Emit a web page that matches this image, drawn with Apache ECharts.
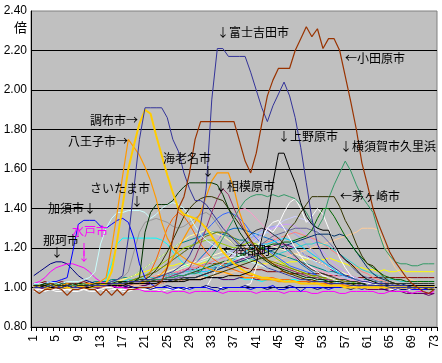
<!DOCTYPE html>
<html><head><meta charset="utf-8">
<script src="https://cdn.jsdelivr.net/npm/echarts@6/dist/echarts.min.js"></script>
<style>html,body{margin:0;padding:0;background:#fff}#c{width:442px;height:363px}</style>
</head><body><div id="c"></div>
<script>
const categories = ['1','2','3','4','5','6','7','8','9','10','11','12','13','14','15','16','17','18','19','20','21','22','23','24','25','26','27','28','29','30','31','32','33','34','35','36','37','38','39','40','41','42','43','44','45','46','47','48','49','50','51','52','53','54','55','56','57','58','59','60','61','62','63','64','65','66','67','68','69','70','71','72','73'];
const yTicks = [0.8,1.0,1.2,1.4,1.6,1.8,2.0,2.2,2.4];

const naka = [1.06,1.08,1.10,1.12,1.13,1.13,1.12,1.09,1.06,1.04,1.03,1.02,1.02,1.01,1.01,1.00,1.00,1.01,1.00,1.00,1.00,0.99,1.00,1.00,1.01,1.00,1.00,0.99,1.00,1.00,1.00,1.01,1.00,1.00,0.99,1.00,1.00,1.00,1.01,1.00,1.00,1.00,0.99,1.00,1.00,1.00,1.01,1.00,1.00,1.00,1.00,0.99,1.00,1.00,1.00,1.00,1.00,0.99,1.00,1.00,1.00,1.00,1.00,0.99,1.00,1.00,0.99,0.99,1.00,0.99,0.99,1.00,0.99];
const mito = [1.02,1.03,1.05,1.08,1.10,1.11,1.12,1.12,1.11,1.10,1.08,1.05,1.03,1.02,1.01,1.00,1.00,0.99,0.99,0.99,0.98,0.98,0.98,0.98,0.97,0.98,0.98,0.98,0.97,0.98,0.98,0.98,0.98,0.98,0.97,0.98,0.98,0.98,0.98,0.98,0.97,0.98,0.98,0.98,0.98,0.97,0.98,0.98,0.98,0.98,0.97,0.97,0.98,0.98,0.98,0.97,0.97,0.98,0.98,0.98,0.98,0.98,0.97,0.97,0.98,0.98,0.98,0.98,0.97,0.98,0.98,0.97,0.98];
const yellowS = [1.00,1.00,1.01,1.00,1.00,1.01,1.00,1.00,1.00,1.01,1.00,1.00,1.01,1.01,1.02,1.03,1.04,1.05,1.06,1.07,1.08,1.09,1.10,1.10,1.11,1.11,1.12,1.12,1.11,1.12,1.12,1.13,1.12,1.12,1.13,1.13,1.12,1.13,1.13,1.14,1.13,1.12,1.12,1.13,1.12,1.12,1.13,1.13,1.14,1.14,1.15,1.15,1.14,1.15,1.14,1.13,1.12,1.11,1.10,1.10,1.09,1.09,1.08,1.09,1.08,1.08,1.09,1.08,1.08,1.08,1.08,1.08,1.08];
const cyanS = [1.00,1.01,1.00,1.00,1.01,1.00,1.00,1.01,1.00,1.00,1.01,1.01,1.02,1.04,1.12,1.22,1.25,1.25,1.25,1.25,1.25,1.25,1.25,1.24,1.22,1.18,1.15,1.12,1.10,1.08,1.07,1.06,1.05,1.05,1.04,1.04,1.04,1.05,1.04,1.04,1.04,1.03,1.04,1.04,1.04,1.03,1.04,1.04,1.03,1.03,1.03,1.03,1.04,1.03,1.03,1.02,1.02,1.03,1.02,1.02,1.02,1.02,1.01,1.01,1.01,1.01,1.00,1.00,1.00,1.00,1.00,1.00,1.00];
const purpleS = [1.01,1.00,1.01,1.01,1.00,1.00,1.01,1.00,1.01,1.00,1.00,1.00,1.01,1.00,1.00,1.01,1.00,1.00,1.01,1.01,1.01,1.02,1.02,1.03,1.03,1.04,1.05,1.06,1.07,1.08,1.08,1.09,1.10,1.10,1.11,1.12,1.13,1.14,1.15,1.16,1.17,1.18,1.20,1.21,1.22,1.22,1.21,1.20,1.18,1.16,1.15,1.13,1.12,1.10,1.08,1.07,1.06,1.05,1.04,1.03,1.02,1.01,1.00,0.99,0.99,0.98,0.98,0.98,0.97,0.97,0.97,0.97,0.97];
const maroonS = [1.02,1.02,1.03,1.02,1.02,1.03,1.02,1.02,1.02,1.03,1.02,1.02,1.03,1.03,1.02,1.03,1.03,1.03,1.03,1.03,1.03,1.03,1.04,1.05,1.06,1.07,1.08,1.09,1.09,1.09,1.11,1.12,1.12,1.12,1.12,1.12,1.12,1.11,1.10,1.09,1.09,1.09,1.08,1.08,1.08,1.08,1.07,1.07,1.07,1.07,1.07,1.07,1.07,1.06,1.06,1.06,1.06,1.06,1.05,1.05,1.05,1.05,1.05,1.05,1.05,1.05,1.05,1.05,1.05,1.05,1.05,1.05,1.05];
const tealS = [1.01,1.01,1.02,1.02,1.01,1.02,1.02,1.01,1.02,1.02,1.02,1.03,1.03,1.03,1.04,1.04,1.05,1.05,1.06,1.08,1.10,1.12,1.14,1.16,1.18,1.20,1.22,1.23,1.24,1.25,1.26,1.27,1.28,1.28,1.27,1.26,1.25,1.24,1.24,1.22,1.21,1.20,1.19,1.18,1.17,1.16,1.15,1.14,1.13,1.12,1.11,1.10,1.09,1.08,1.08,1.07,1.06,1.05,1.05,1.04,1.04,1.03,1.03,1.03,1.02,1.02,1.02,1.02,1.02,1.02,1.02,1.02,1.02];
const kazo = [1.02,1.02,1.02,1.03,1.03,1.04,1.05,1.18,1.32,1.34,1.34,1.34,1.31,1.30,1.32,1.34,1.35,1.33,1.25,1.12,1.05,1.02,1.00,1.00,1.00,0.99,1.00,1.00,0.99,1.00,1.00,1.00,0.99,0.98,1.00,1.00,1.00,1.00,1.00,0.99,1.00,1.00,1.00,1.01,0.99,0.99,1.00,1.00,0.98,1.00,1.00,1.00,1.00,0.99,1.00,1.00,1.00,1.00,1.00,0.99,1.00,1.00,1.00,1.00,1.00,0.99,1.00,1.00,0.99,0.99,0.99,0.99,0.99];
const periS = [1.00,1.00,0.99,1.00,1.00,1.00,1.01,1.00,1.00,1.00,1.00,1.01,1.00,1.00,1.01,1.01,1.01,1.02,1.02,1.03,1.03,1.04,1.04,1.05,1.05,1.06,1.07,1.08,1.09,1.10,1.11,1.12,1.13,1.14,1.15,1.17,1.19,1.21,1.23,1.25,1.27,1.29,1.30,1.31,1.31,1.30,1.29,1.27,1.25,1.22,1.19,1.16,1.13,1.11,1.09,1.07,1.05,1.04,1.03,1.02,1.02,1.01,1.01,1.01,1.00,1.00,1.00,1.00,1.00,1.00,1.00,1.00,1.00];
const plumS = [1.00,1.01,1.00,1.00,1.00,1.01,1.00,1.00,1.00,1.00,1.01,1.00,1.00,1.01,1.01,1.00,1.01,1.01,1.02,1.02,1.02,1.03,1.03,1.04,1.05,1.06,1.07,1.08,1.10,1.15,1.22,1.30,1.38,1.45,1.50,1.47,1.40,1.34,1.28,1.23,1.19,1.16,1.14,1.12,1.11,1.10,1.09,1.08,1.07,1.06,1.05,1.05,1.04,1.04,1.03,1.03,1.02,1.02,1.02,1.01,1.01,1.01,1.01,1.00,1.00,1.00,1.00,1.00,1.00,1.00,1.00,1.00,1.00];
const ltYellowS = [1.00,1.00,1.00,1.01,1.00,1.00,1.00,1.00,1.01,1.00,1.00,1.00,1.00,1.00,1.01,1.01,1.02,1.02,1.03,1.03,1.04,1.05,1.06,1.07,1.08,1.09,1.10,1.11,1.12,1.13,1.14,1.15,1.16,1.17,1.18,1.19,1.20,1.20,1.21,1.21,1.22,1.22,1.21,1.21,1.20,1.19,1.18,1.17,1.16,1.15,1.14,1.13,1.12,1.10,1.09,1.08,1.07,1.06,1.05,1.04,1.03,1.03,1.02,1.02,1.01,1.01,1.01,1.00,1.00,1.00,1.00,1.00,1.00];
const dkPurpleS = [0.99,0.99,1.00,0.99,0.99,1.00,0.99,0.99,0.99,1.00,0.99,0.99,1.00,1.00,1.00,1.00,1.00,1.01,1.01,1.01,1.01,1.02,1.02,1.02,1.03,1.03,1.03,1.04,1.04,1.04,1.04,1.05,1.05,1.05,1.04,1.04,1.04,1.05,1.05,1.05,1.04,1.04,1.04,1.04,1.04,1.03,1.03,1.03,1.03,1.03,1.02,1.02,1.02,1.02,1.01,1.01,1.01,1.00,1.00,1.00,0.99,0.99,0.99,0.99,0.98,0.98,0.98,0.97,0.97,0.97,0.97,0.96,0.97];
const salmonS = [1.01,1.01,1.00,1.01,1.01,1.00,1.01,1.01,1.01,1.00,1.01,1.01,1.01,1.02,1.02,1.02,1.03,1.03,1.04,1.04,1.05,1.05,1.06,1.06,1.07,1.08,1.08,1.09,1.10,1.10,1.11,1.12,1.13,1.14,1.15,1.16,1.17,1.18,1.19,1.20,1.21,1.22,1.23,1.24,1.25,1.26,1.27,1.28,1.27,1.26,1.25,1.24,1.22,1.20,1.18,1.16,1.14,1.12,1.10,1.08,1.07,1.05,1.04,1.03,1.02,1.02,1.01,1.01,1.01,1.00,1.00,1.00,1.00];
const medBlueS = [1.00,1.00,1.00,1.01,1.00,1.00,1.00,1.01,1.00,1.00,1.00,1.01,1.01,1.01,1.01,1.02,1.02,1.02,1.03,1.03,1.03,1.04,1.04,1.05,1.05,1.06,1.07,1.08,1.10,1.12,1.15,1.18,1.21,1.24,1.27,1.29,1.30,1.30,1.29,1.28,1.27,1.26,1.25,1.24,1.22,1.20,1.18,1.15,1.12,1.10,1.08,1.06,1.05,1.04,1.03,1.02,1.02,1.01,1.01,1.00,1.00,1.00,1.00,1.00,1.00,1.00,1.00,1.00,0.99,0.99,0.99,0.99,0.99];
const lavenderS = [1.00,1.00,1.00,1.00,1.01,1.00,1.00,1.00,1.00,1.01,1.00,1.00,1.00,1.01,1.01,1.01,1.01,1.02,1.02,1.02,1.02,1.03,1.03,1.03,1.04,1.04,1.05,1.05,1.06,1.07,1.08,1.09,1.10,1.11,1.12,1.14,1.16,1.18,1.20,1.22,1.24,1.26,1.28,1.30,1.32,1.34,1.35,1.36,1.35,1.34,1.32,1.29,1.26,1.23,1.20,1.17,1.14,1.11,1.08,1.06,1.05,1.04,1.03,1.02,1.02,1.01,1.01,1.01,1.00,1.00,1.00,1.00,1.00];
const skyS = [1.01,1.01,1.02,1.01,1.01,1.02,1.01,1.01,1.01,1.02,1.01,1.01,1.02,1.02,1.02,1.03,1.03,1.03,1.04,1.04,1.04,1.04,1.05,1.05,1.05,1.06,1.06,1.06,1.07,1.07,1.08,1.08,1.09,1.10,1.11,1.12,1.14,1.16,1.18,1.20,1.21,1.22,1.22,1.23,1.24,1.25,1.24,1.23,1.21,1.19,1.17,1.15,1.13,1.11,1.09,1.07,1.06,1.05,1.04,1.03,1.02,1.02,1.02,1.01,1.01,1.01,1.01,1.01,1.01,1.01,1.01,1.01,1.01];
const mintS = [1.00,1.00,1.01,1.00,1.00,1.00,1.01,1.00,1.00,1.00,1.00,1.01,1.00,1.00,1.01,1.01,1.01,1.02,1.02,1.03,1.03,1.04,1.05,1.06,1.07,1.08,1.09,1.10,1.11,1.12,1.13,1.14,1.15,1.15,1.16,1.16,1.17,1.17,1.16,1.16,1.15,1.15,1.14,1.13,1.12,1.11,1.10,1.09,1.08,1.07,1.06,1.05,1.05,1.04,1.04,1.03,1.03,1.02,1.02,1.01,1.01,1.01,1.00,1.00,1.00,1.00,1.00,1.00,1.00,1.00,1.00,1.00,1.00];
const paleYellowS = [1.00,1.00,1.00,1.00,1.00,1.01,1.00,1.00,1.00,1.00,1.01,1.01,1.01,1.02,1.02,1.03,1.04,1.05,1.06,1.08,1.10,1.12,1.14,1.16,1.18,1.20,1.22,1.24,1.26,1.27,1.28,1.29,1.28,1.27,1.26,1.24,1.22,1.20,1.18,1.16,1.15,1.14,1.13,1.12,1.11,1.10,1.09,1.08,1.08,1.07,1.06,1.06,1.05,1.05,1.04,1.04,1.03,1.03,1.03,1.02,1.02,1.02,1.02,1.01,1.01,1.01,1.01,1.01,1.01,1.01,1.01,1.01,1.01];
const paleBlueS = [1.01,1.00,1.00,1.01,1.00,1.00,1.01,1.00,1.00,1.01,1.00,1.00,1.01,1.01,1.01,1.02,1.02,1.02,1.03,1.03,1.03,1.04,1.04,1.05,1.05,1.06,1.06,1.07,1.08,1.09,1.10,1.11,1.12,1.14,1.16,1.18,1.20,1.22,1.24,1.26,1.27,1.28,1.28,1.27,1.26,1.24,1.22,1.20,1.18,1.16,1.14,1.12,1.10,1.08,1.07,1.06,1.05,1.04,1.03,1.03,1.02,1.02,1.02,1.01,1.01,1.01,1.01,1.00,1.00,1.00,1.00,1.00,1.00];
const pinkS = [1.00,1.00,1.00,1.00,1.00,1.00,1.00,1.01,1.00,1.00,1.00,1.00,1.01,1.01,1.01,1.01,1.02,1.02,1.02,1.03,1.03,1.04,1.04,1.05,1.06,1.07,1.08,1.09,1.10,1.12,1.14,1.17,1.20,1.24,1.28,1.32,1.36,1.39,1.40,1.38,1.35,1.32,1.29,1.26,1.23,1.20,1.17,1.15,1.13,1.11,1.10,1.09,1.08,1.07,1.06,1.05,1.04,1.04,1.03,1.03,1.02,1.02,1.02,1.02,1.01,1.01,1.01,1.01,1.01,1.01,1.01,1.01,1.01];
const violetS = [1.00,1.00,1.01,1.00,1.00,1.00,1.00,1.00,1.01,1.00,1.00,1.00,1.00,1.00,1.01,1.01,1.01,1.01,1.02,1.02,1.02,1.03,1.03,1.04,1.04,1.05,1.05,1.06,1.07,1.08,1.09,1.10,1.11,1.12,1.13,1.15,1.17,1.19,1.21,1.23,1.25,1.27,1.29,1.30,1.31,1.32,1.32,1.31,1.29,1.27,1.24,1.21,1.18,1.15,1.12,1.10,1.08,1.06,1.05,1.04,1.03,1.02,1.02,1.01,1.01,1.01,1.00,1.00,1.00,1.00,1.00,1.00,1.00];
const peachS = [1.00,1.00,1.00,1.00,1.00,1.00,1.00,1.00,1.00,1.00,1.00,1.00,1.00,1.00,1.00,1.01,1.01,1.01,1.01,1.01,1.02,1.02,1.02,1.02,1.03,1.03,1.03,1.04,1.04,1.04,1.05,1.05,1.06,1.06,1.07,1.07,1.08,1.08,1.09,1.09,1.10,1.11,1.12,1.13,1.14,1.15,1.16,1.17,1.18,1.19,1.20,1.21,1.22,1.23,1.24,1.25,1.26,1.27,1.28,1.30,1.30,1.30,1.29,1.22,1.15,1.10,1.07,1.05,1.04,1.03,1.02,1.02,1.02];
const royalS = [1.01,1.01,1.01,1.00,1.01,1.01,1.01,1.01,1.00,1.01,1.01,1.01,1.01,1.02,1.02,1.02,1.03,1.03,1.04,1.05,1.06,1.07,1.08,1.10,1.12,1.14,1.16,1.18,1.20,1.23,1.26,1.29,1.32,1.35,1.37,1.38,1.37,1.35,1.32,1.28,1.25,1.22,1.19,1.17,1.15,1.13,1.11,1.10,1.09,1.08,1.07,1.06,1.05,1.04,1.04,1.03,1.03,1.02,1.02,1.02,1.01,1.01,1.01,1.01,1.01,1.00,1.00,1.00,1.00,1.00,1.00,1.00,1.00];
const aquaS = [1.01,1.02,1.01,1.01,1.02,1.01,1.01,1.02,1.01,1.01,1.02,1.02,1.02,1.02,1.03,1.03,1.03,1.04,1.04,1.04,1.05,1.05,1.05,1.06,1.06,1.07,1.07,1.08,1.08,1.09,1.09,1.10,1.10,1.11,1.11,1.12,1.12,1.13,1.13,1.14,1.14,1.15,1.15,1.16,1.17,1.18,1.19,1.20,1.21,1.22,1.22,1.23,1.22,1.21,1.19,1.17,1.15,1.13,1.11,1.09,1.08,1.07,1.06,1.05,1.04,1.04,1.03,1.03,1.03,1.03,1.03,1.03,1.03];
const limeS = [1.00,1.00,1.00,1.00,1.00,1.00,1.00,1.00,1.00,1.00,1.00,1.00,1.01,1.01,1.01,1.02,1.02,1.03,1.04,1.05,1.06,1.08,1.10,1.12,1.14,1.16,1.18,1.20,1.21,1.22,1.23,1.24,1.24,1.23,1.22,1.21,1.20,1.21,1.22,1.23,1.22,1.20,1.18,1.16,1.14,1.12,1.10,1.09,1.08,1.07,1.06,1.05,1.05,1.04,1.04,1.03,1.03,1.03,1.02,1.02,1.02,1.02,1.01,1.01,1.01,1.01,1.01,1.01,1.01,1.01,1.01,1.01,1.01];
const orange2S = [1.01,1.01,1.01,1.01,1.01,1.01,1.01,1.01,1.01,1.01,1.01,1.01,1.01,1.01,1.01,1.01,1.02,1.02,1.02,1.02,1.03,1.04,1.05,1.07,1.10,1.15,1.20,1.25,1.30,1.33,1.38,1.46,1.54,1.58,1.58,1.58,1.50,1.38,1.30,1.24,1.20,1.17,1.14,1.12,1.10,1.08,1.07,1.06,1.05,1.04,1.04,1.03,1.03,1.03,1.02,1.02,1.02,1.02,1.01,1.01,1.01,1.01,1.01,1.01,1.01,1.01,1.01,1.01,1.01,1.01,1.01,1.01,1.01];
const redOrangeS = [1.00,1.01,1.00,1.01,1.00,1.01,1.00,1.01,1.00,1.01,1.01,1.01,1.01,1.01,1.02,1.02,1.02,1.02,1.03,1.03,1.04,1.08,1.14,1.22,1.30,1.35,1.38,1.36,1.32,1.27,1.22,1.18,1.15,1.13,1.11,1.10,1.09,1.08,1.07,1.06,1.06,1.05,1.05,1.05,1.04,1.04,1.04,1.03,1.03,1.03,1.03,1.02,1.02,1.02,1.02,1.02,1.01,1.01,1.01,1.01,1.01,1.01,1.01,1.00,1.00,1.00,1.00,1.00,1.00,1.00,1.00,1.00,1.00];
const slateS = [1.00,1.00,1.01,1.00,1.00,1.01,1.00,1.00,1.01,1.00,1.01,1.01,1.01,1.01,1.02,1.02,1.02,1.02,1.03,1.03,1.03,1.03,1.04,1.04,1.04,1.04,1.05,1.05,1.05,1.05,1.06,1.07,1.08,1.09,1.10,1.11,1.12,1.14,1.16,1.18,1.20,1.22,1.24,1.26,1.27,1.28,1.29,1.30,1.30,1.30,1.29,1.28,1.26,1.23,1.20,1.17,1.14,1.11,1.08,1.06,1.05,1.04,1.03,1.02,1.02,1.01,1.01,1.01,1.00,1.00,1.00,1.00,1.00];
const grayS = [1.01,1.01,1.01,1.01,1.02,1.01,1.01,1.01,1.02,1.01,1.01,1.02,1.02,1.02,1.03,1.04,1.05,1.08,1.18,1.28,1.33,1.34,1.35,1.34,1.33,1.31,1.30,1.31,1.33,1.35,1.37,1.38,1.36,1.32,1.28,1.25,1.22,1.20,1.18,1.16,1.15,1.14,1.13,1.12,1.11,1.10,1.09,1.08,1.07,1.06,1.05,1.05,1.04,1.04,1.03,1.03,1.03,1.02,1.02,1.02,1.01,1.01,1.01,1.01,1.01,1.01,1.01,1.01,1.01,1.01,1.01,1.01,1.01];
const dkSlateS = [1.00,1.00,1.00,1.01,1.00,1.00,1.00,1.01,1.00,1.00,1.00,1.01,1.01,1.01,1.01,1.01,1.02,1.02,1.02,1.02,1.02,1.03,1.03,1.03,1.03,1.04,1.04,1.04,1.05,1.05,1.06,1.07,1.08,1.09,1.10,1.11,1.12,1.13,1.14,1.15,1.16,1.17,1.18,1.19,1.20,1.21,1.22,1.23,1.24,1.25,1.26,1.27,1.27,1.27,1.26,1.27,1.26,1.22,1.18,1.14,1.10,1.07,1.05,1.04,1.03,1.02,1.02,1.01,1.01,1.00,1.00,1.00,1.00];
const dkGreenS = [1.01,1.01,1.01,1.01,1.01,1.01,1.01,1.01,1.01,1.01,1.01,1.01,1.01,1.02,1.02,1.02,1.02,1.02,1.03,1.03,1.03,1.04,1.04,1.04,1.05,1.05,1.06,1.06,1.07,1.08,1.09,1.10,1.11,1.12,1.13,1.14,1.15,1.16,1.17,1.18,1.19,1.20,1.21,1.22,1.22,1.23,1.23,1.24,1.25,1.26,1.29,1.35,1.40,1.40,1.36,1.31,1.26,1.22,1.18,1.15,1.12,1.10,1.08,1.06,1.05,1.04,1.04,1.03,1.03,1.03,1.03,1.03,1.03];
const oliveS = [1.00,1.01,1.00,1.00,1.01,1.00,1.01,1.00,1.00,1.01,1.01,1.01,1.01,1.02,1.02,1.02,1.03,1.03,1.04,1.05,1.06,1.07,1.08,1.10,1.12,1.14,1.16,1.18,1.20,1.22,1.24,1.26,1.27,1.28,1.28,1.27,1.25,1.22,1.20,1.18,1.16,1.15,1.14,1.13,1.12,1.11,1.10,1.09,1.08,1.07,1.06,1.06,1.05,1.05,1.04,1.04,1.03,1.03,1.03,1.02,1.02,1.02,1.02,1.01,1.01,1.01,1.01,1.01,1.01,1.01,1.01,1.01,1.01];
const dkGrayS = [1.01,1.01,1.01,1.01,1.01,1.02,1.01,1.01,1.01,1.01,1.02,1.02,1.02,1.02,1.02,1.02,1.03,1.03,1.03,1.03,1.03,1.03,1.04,1.04,1.04,1.04,1.04,1.05,1.05,1.05,1.06,1.07,1.08,1.10,1.12,1.15,1.18,1.21,1.24,1.27,1.29,1.30,1.29,1.27,1.25,1.22,1.19,1.16,1.13,1.11,1.09,1.08,1.07,1.06,1.05,1.04,1.04,1.03,1.03,1.02,1.02,1.02,1.02,1.02,1.02,1.02,1.02,1.02,1.02,1.02,1.02,1.02,1.02];
const white1S = [0.99,0.99,0.99,0.99,0.99,0.99,0.99,0.99,0.99,0.99,0.99,0.99,0.99,1.00,1.00,0.99,0.99,0.99,1.00,1.00,1.00,1.00,1.00,1.00,1.00,1.00,1.00,1.00,1.00,1.00,1.00,1.00,1.00,1.00,1.00,1.00,1.00,1.00,1.01,1.02,1.10,1.25,1.30,1.28,1.32,1.38,1.43,1.45,1.40,1.33,1.36,1.40,1.37,1.30,1.22,1.15,1.10,1.06,1.04,1.03,1.02,1.02,1.01,1.01,1.01,1.00,1.00,1.00,1.00,1.00,1.00,1.00,1.00];
const white2S = [0.98,0.99,0.98,0.99,0.98,0.98,0.99,0.98,0.98,0.99,0.98,0.98,0.99,0.98,0.99,0.99,0.98,0.98,0.99,0.99,0.99,0.99,0.99,0.98,0.99,0.99,0.99,0.99,0.99,1.00,1.00,1.00,1.05,1.10,1.12,1.15,1.15,1.15,1.16,1.18,1.20,1.25,1.30,1.33,1.34,1.30,1.25,1.20,1.16,1.12,1.10,1.08,1.06,1.05,1.04,1.03,1.02,1.01,1.00,1.00,1.00,1.00,1.00,1.00,0.99,0.99,0.99,0.99,0.99,0.99,0.99,0.99,0.99];
const sagami = [1.01,1.01,1.02,1.01,1.01,1.01,1.02,1.01,1.01,1.01,1.02,1.02,1.02,1.02,1.02,1.03,1.03,1.03,1.03,1.04,1.04,1.06,1.09,1.13,1.18,1.24,1.30,1.36,1.40,1.43,1.45,1.46,1.46,1.45,1.44,1.40,1.36,1.32,1.28,1.24,1.20,1.17,1.14,1.12,1.10,1.08,1.07,1.06,1.05,1.04,1.04,1.03,1.03,1.03,1.02,1.02,1.02,1.02,1.01,1.01,1.01,1.01,1.01,1.01,1.01,1.01,1.01,1.01,1.01,1.01,1.01,1.01,1.01];
const saitama = [1.02,1.02,1.02,1.03,1.02,1.02,1.03,1.03,1.03,1.04,1.05,1.08,1.22,1.30,1.35,1.38,1.38,1.39,1.39,1.39,1.38,1.35,1.37,1.40,1.42,1.43,1.42,1.40,1.36,1.31,1.27,1.24,1.22,1.20,1.19,1.18,1.17,1.16,1.15,1.13,1.12,1.11,1.10,1.09,1.08,1.07,1.06,1.06,1.05,1.05,1.04,1.04,1.03,1.03,1.03,1.02,1.02,1.02,1.01,1.01,1.01,1.01,1.00,1.00,1.00,1.00,1.00,1.00,1.00,1.00,1.00,1.00,1.00];
const ebina = [1.01,1.01,1.02,1.01,1.01,1.02,1.01,1.01,1.02,1.02,1.02,1.02,1.02,1.02,1.02,1.02,1.03,1.03,1.03,1.05,1.28,1.38,1.42,1.42,1.42,1.44,1.48,1.51,1.53,1.53,1.53,1.53,1.53,1.52,1.47,1.40,1.34,1.28,1.24,1.20,1.17,1.15,1.13,1.11,1.10,1.09,1.08,1.07,1.06,1.05,1.05,1.04,1.04,1.03,1.03,1.03,1.02,1.02,1.02,1.02,1.01,1.01,1.01,1.01,1.01,1.01,1.01,1.01,1.01,1.01,1.01,1.01,1.01];
const gold = [1.00,1.01,1.00,1.00,1.01,1.00,1.00,1.00,1.01,1.00,1.00,1.01,1.01,1.02,1.08,1.24,1.42,1.60,1.72,1.83,1.90,1.88,1.77,1.67,1.57,1.48,1.40,1.37,1.36,1.35,1.33,1.30,1.26,1.22,1.18,1.15,1.12,1.10,1.08,1.07,1.06,1.05,1.05,1.04,1.04,1.03,1.03,1.03,1.02,1.02,1.02,1.02,1.01,1.01,1.01,1.01,1.00,1.00,1.00,1.00,1.00,1.00,1.00,1.00,1.00,1.00,1.00,1.00,1.00,1.00,1.00,1.00,1.00];
const hachioji = [1.01,1.01,1.01,1.02,1.01,1.01,1.02,1.01,1.01,1.02,1.02,1.02,1.03,1.05,1.20,1.38,1.57,1.75,1.71,1.67,1.61,1.54,1.45,1.33,1.25,1.20,1.17,1.15,1.13,1.12,1.11,1.10,1.09,1.08,1.08,1.07,1.06,1.06,1.05,1.05,1.05,1.04,1.04,1.04,1.03,1.03,1.03,1.03,1.02,1.02,1.02,1.02,1.02,1.01,1.01,1.01,1.01,1.01,1.01,1.01,1.01,1.01,1.00,1.00,1.00,1.00,1.00,1.00,1.00,1.00,1.00,1.00,1.00];
const chofu = [1.01,1.00,1.01,1.01,1.00,1.01,1.01,1.00,1.01,1.01,1.01,1.01,1.02,1.02,1.03,1.04,1.06,1.25,1.50,1.75,1.91,1.91,1.91,1.91,1.86,1.75,1.69,1.58,1.50,1.44,1.44,1.42,1.38,1.34,1.30,1.27,1.24,1.21,1.18,1.16,1.14,1.12,1.10,1.09,1.08,1.07,1.06,1.05,1.04,1.04,1.03,1.03,1.03,1.02,1.02,1.02,1.02,1.01,1.01,1.01,1.01,1.01,1.01,1.01,1.00,1.00,1.00,1.00,1.00,1.00,1.00,1.00,1.00];
const kurihama = [1.01,1.01,1.01,1.01,1.02,1.01,1.01,1.01,1.01,1.02,1.01,1.02,1.02,1.02,1.02,1.02,1.02,1.03,1.03,1.03,1.03,1.04,1.04,1.04,1.05,1.05,1.06,1.06,1.07,1.07,1.08,1.12,1.16,1.20,1.25,1.30,1.35,1.40,1.44,1.46,1.47,1.47,1.46,1.47,1.46,1.47,1.46,1.45,1.42,1.38,1.33,1.30,1.35,1.45,1.52,1.58,1.64,1.59,1.52,1.46,1.42,1.38,1.28,1.20,1.16,1.13,1.12,1.12,1.11,1.11,1.12,1.12,1.12];
const chigasaki = [1.01,1.01,1.01,1.02,1.01,1.01,1.01,1.02,1.01,1.01,1.01,1.02,1.02,1.02,1.02,1.02,1.02,1.02,1.03,1.03,1.03,1.03,1.03,1.03,1.03,1.03,1.04,1.04,1.04,1.04,1.04,1.05,1.06,1.07,1.08,1.09,1.10,1.11,1.12,1.13,1.14,1.15,1.15,1.16,1.20,1.25,1.30,1.33,1.38,1.42,1.46,1.46,1.46,1.46,1.46,1.41,1.34,1.29,1.22,1.16,1.12,1.11,1.08,1.05,1.03,1.02,1.01,1.01,1.00,1.00,1.00,0.99,0.99];
const uenohara = [1.00,1.00,1.01,1.00,1.00,1.00,1.01,1.00,1.00,1.00,1.00,1.01,1.01,1.01,1.01,1.01,1.01,1.02,1.02,1.02,1.02,1.02,1.02,1.03,1.03,1.03,1.03,1.03,1.04,1.04,1.04,1.05,1.05,1.05,1.05,1.06,1.06,1.06,1.07,1.08,1.12,1.25,1.35,1.53,1.68,1.68,1.60,1.53,1.43,1.36,1.32,1.30,1.29,1.29,1.22,1.17,1.14,1.12,1.09,1.06,1.04,1.03,1.02,1.02,1.01,1.01,1.01,1.01,1.01,1.01,1.01,1.01,1.01];
const fujiyoshida = [1.00,1.00,1.00,1.01,1.00,1.00,1.01,1.00,1.00,1.00,1.01,1.01,1.01,1.01,1.02,1.02,1.02,1.03,1.03,1.03,1.04,1.04,1.05,1.06,1.07,1.08,1.10,1.12,1.16,1.22,1.32,1.50,1.95,2.21,2.21,2.17,2.17,2.17,2.17,2.09,2.00,1.91,1.84,1.92,1.98,2.04,1.97,1.86,1.71,1.53,1.35,1.22,1.16,1.12,1.10,1.08,1.06,1.05,1.04,1.03,1.03,1.02,1.02,1.02,1.01,1.01,1.01,1.01,1.00,1.00,1.00,1.00,1.00];
const odawara = [0.99,0.97,0.99,0.99,1.00,0.99,0.96,0.99,0.99,1.00,0.99,0.99,0.96,0.99,0.96,0.99,0.96,0.99,0.99,1.00,1.00,1.00,1.01,1.03,1.10,1.25,1.40,1.46,1.58,1.75,1.84,1.84,1.84,1.84,1.84,1.84,1.84,1.74,1.64,1.58,1.68,1.83,1.97,2.05,2.11,2.11,2.11,2.20,2.26,2.32,2.27,2.31,2.21,2.26,2.26,2.20,2.07,1.94,1.80,1.63,1.52,1.40,1.32,1.25,1.18,1.13,1.09,1.05,1.02,1.00,0.98,0.97,0.99];

const seriesList = [
  ['s1', yellowS, '#FFFF00', 1], ['s2', cyanS, '#00FFFF', 1], ['s3', purpleS, '#800080', 1],
  ['s4', maroonS, '#800000', 1], ['s5', tealS, '#008080', 1], ['s6', periS, '#9999FF', 1],
  ['s7', ltYellowS, '#FFFFCC', 1], ['s8', dkPurpleS, '#660066', 1], ['s9', salmonS, '#FF8080', 1],
  ['s10', medBlueS, '#0066CC', 1], ['s11', lavenderS, '#CCCCFF', 1], ['s12', skyS, '#00CCFF', 1],
  ['s13', mintS, '#CCFFCC', 1], ['s14', paleYellowS, '#FFFF99', 1], ['s15', paleBlueS, '#99CCFF', 1],
  ['s16', pinkS, '#FF99CC', 1], ['s17', violetS, '#CC99FF', 1], ['s18', peachS, '#FFCC99', 1],
  ['s19', royalS, '#3366FF', 1], ['s20', aquaS, '#33CCCC', 1], ['s21', limeS, '#99CC00', 1],
  ['s22', redOrangeS, '#FF6600', 1], ['s23', slateS, '#666699', 1], ['s24', grayS, '#969696', 1],
  ['s25', dkSlateS, '#003366', 1], ['s26', dkGreenS, '#006600', 1], ['s27', oliveS, '#808000', 1],
  ['s28', dkGrayS, '#333333', 1], ['s29', white2S, '#FFFFFF', 1], ['s30', white1S, '#FFFFFF', 1],
  ['s31', plumS, '#993366', 1], ['s32', orange2S, '#FF9900', 1.2],
  ['那珂市', naka, '#000080', 1], ['水戸市', mito, '#FF00FF', 1], ['加須市', kazo, '#0000FF', 1],
  ['さいたま市', saitama, '#CCFFFF', 1], ['相模原市', sagami, '#333300', 1], ['海老名市', ebina, '#003300', 1],
  ['八王子市', hachioji, '#FF9900', 1.2], ['s33', gold, '#FFCC00', 2], ['調布市', chofu, '#333399', 1],
  ['横須賀市久里浜', kurihama, '#339966', 1], ['茅ヶ崎市', chigasaki, '#333300', 1],
  ['上野原市', uenohara, '#000000', 1], ['富士吉田市', fujiyoshida, '#333399', 1], ['小田原市', odawara, '#993300', 1.2]
];

const jp = '12px "Noto Sans CJK JP"';
const notes = [
  ['↓富士吉田市', 217, 34, '#000'], ['←小田原市', 345, 60, '#000'], ['調布市→', 90, 122, '#000'],
  ['八王子市→', 68, 143, '#000'], ['海老名市', 163, 160, '#000'], ['↓', 202, 173, '#000'],
  ['さいたま市', 90, 190, '#000'], ['↓', 131, 203, '#000'], ['↓相模原市', 215, 188, '#000'],
  ['↓上野原市', 278, 138, '#000'], ['↓横須賀市久里浜', 340, 148, '#000'], ['←茅ヶ崎市', 340, 198, '#000'],
  ['加須市↓', 48, 210, '#000'], ['那珂市', 43, 242, '#000'], ['↓', 51, 254, '#000'],
  ['水戸市', 72, 233, '#FF00FF'], ['↓', 78, 258, '#FF00FF'], ['←南部町', 223, 252, '#000']
];

const chart = echarts.init(document.getElementById('c'), null, {renderer: 'canvas'});
const graphic = notes.map(n => ({
  type: 'text', left: n[1], top: n[2] - 8, z: 100,
  style: {text: n[0], font: jp, fill: n[3]}
}));
graphic.push({type: 'line', z: 100, shape: {x1: 84, y1: 243, x2: 84, y2: 256}, style: {stroke: '#FF00FF', lineWidth: 1}});
graphic.push({type: 'text', left: 14, top: 21, z: 100, style: {text: '倍', font: '13px "Noto Sans CJK JP"', fill: '#000'}});

chart.setOption({
  animation: false,
  backgroundColor: '#FFFFFF',
  grid: {left: 31, right: 5, top: 11, bottom: 36, show: true, backgroundColor: '#C0C0C0', borderColor: '#808080', borderWidth: 1},
  xAxis: {
    type: 'category', data: categories, boundaryGap: true,
    axisLine: {lineStyle: {color: '#000', width: 1}},
    axisTick: {show: true, interval: 0, length: 4, lineStyle: {color: '#000'}},
    axisLabel: {interval: 3, rotate: 90, fontSize: 12, color: '#000', margin: 8, fontFamily: '"Liberation Sans", Arial, sans-serif'},
    splitLine: {show: false}
  },
  yAxis: {
    type: 'value', min: yTicks[0], max: yTicks[yTicks.length - 1], interval: 0.2,
    axisLine: {show: true, lineStyle: {color: '#000', width: 1}},
    axisTick: {show: false},
    axisLabel: {formatter: v => v.toFixed(2), fontSize: 12, color: '#000', margin: 4, fontFamily: '"Liberation Sans", Arial, sans-serif'},
    splitLine: {show: true, showMinLine: false, showMaxLine: false, lineStyle: {color: '#000', width: 1}}
  },
  series: seriesList.map(s => ({
    name: s[0], type: 'line', data: s[1], symbol: 'none', showSymbol: false, silent: true,
    lineStyle: {color: s[2], width: s[3]}, itemStyle: {color: s[2]}, emphasis: {disabled: true}
  })),
  graphic: graphic
});
</script></body></html>
